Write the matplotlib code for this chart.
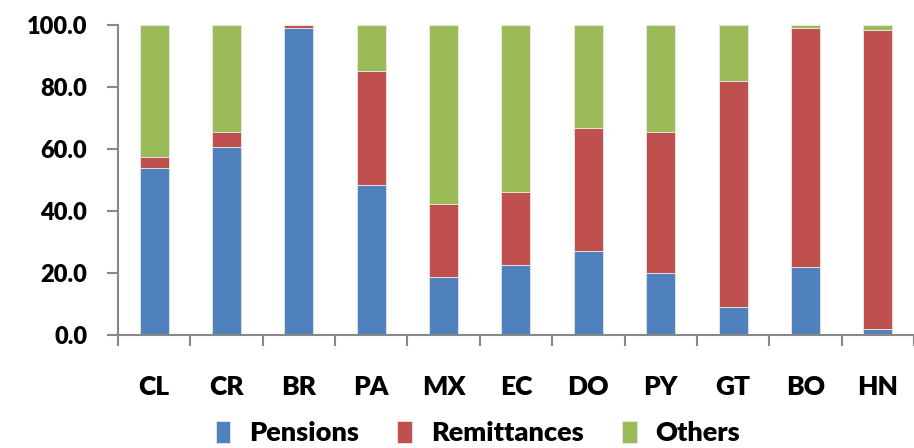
import numpy as np
import matplotlib.pyplot as plt

countries = ['CL', 'CR', 'BR', 'PA', 'MX', 'EC', 'DO', 'PY', 'GT', 'BO', 'HN']
pensions = [53.8, 60.8, 98.9, 48.3, 18.9, 22.6, 27.0, 19.9, 9.0, 21.9, 2.0]
remittances = [3.7, 4.6, 1.1, 37.0, 23.5, 23.7, 39.7, 45.7, 73.0, 77.2, 96.5]
others = [100 - p - r for p, r in zip(pensions, remittances)]

plt.rcParams['font.family'] = ['Lato', 'DejaVu Sans']
plt.rcParams['font.weight'] = 'heavy'

fig = plt.figure(figsize=(9.14, 4.48), dpi=100)
ax = fig.add_axes([0.129, 0.252, 0.871, 0.692])

x = np.arange(len(countries))
w = 0.4
ec = '#e8e8e8'
ax.bar(x, pensions, w, color='#4F81BD', edgecolor=ec, linewidth=0.6, label='Pensions')
ax.bar(x, remittances, w, bottom=pensions, color='#C0504D', edgecolor=ec, linewidth=0.6, label='Remittances')
bot = [p + r for p, r in zip(pensions, remittances)]
ax.bar(x, others, w, bottom=bot, color='#9BBB59', edgecolor=ec, linewidth=0.6, label='Others')

ax.set_xlim(-0.5, len(countries) - 0.5)
ax.set_ylim(0, 100)
ax.set_yticks(np.arange(0, 101, 20))
ax.set_yticklabels(['%.1f' % v for v in np.arange(0, 101, 20)])
ax.set_xticks(x)
ax.set_xticklabels(countries)
ax.set_xticks(np.arange(-0.5, len(countries)), minor=True)
ax.tick_params(axis='x', which='major', length=0, pad=29, labelsize=19)
ax.tick_params(axis='x', which='minor', length=8, width=1.5, color='#888888', direction='out')
ax.tick_params(axis='y', length=8, width=1.5, color='#888888', pad=14, labelsize=17)

for s in ['top', 'right']:
    ax.spines[s].set_visible(False)
for s in ['left', 'bottom']:
    ax.spines[s].set_color('#888888')
    ax.spines[s].set_linewidth(1.5)

fig.legend(loc='lower center', bbox_to_anchor=(0.523, -0.048), ncol=3, frameon=False,
           fontsize=19.5, handlelength=0.55, handleheight=0.9, columnspacing=1.4, handletextpad=0.7)

fig.savefig('out.png', dpi=100)
